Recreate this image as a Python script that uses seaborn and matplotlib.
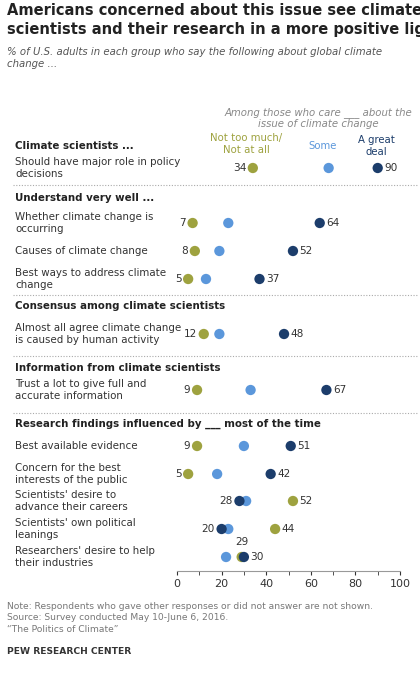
import matplotlib
matplotlib.use("Agg")
import matplotlib.pyplot as plt
import seaborn as sns
import pandas as pd

items = ["Should have major role in policy\ndecisions",
         "Whether climate change is\noccurring", "Causes of climate change",
         "Best ways to address climate\nchange",
         "Almost all agree climate change\nis caused by human activity",
         "Trust a lot to give full and\naccurate information",
         "Best available evidence", "Concern for the best\ninterests of the public",
         "Scientists' desire to\nadvance their careers",
         "Scientists' own political\nleanings", "Researchers' desire to help\ntheir industries"]
not_much = [34, 7, 8, 5, 12, 9, 9, 5, 52, 44, 29]
some = [68, 23, 19, 13, 19, 33, 30, 18, 31, 23, 22]
great = [90, 64, 52, 37, 48, 67, 51, 42, 28, 20, 30]
headers = ["Climate scientists ...", "Understand very well ...",
           "Consensus among climate scientists", "Information from climate scientists",
           "Research findings influenced by ___ most of the time"]

W, H = 420, 676
row_y = [168, 223, 251, 279, 334, 390, 446, 474, 501, 529, 557]
head_y = [146, 198, 306, 368, 424]
sep_y = [185, 295, 356, 413]
GREEN, LBLUE, NAVY = "#9ea23f", "#5b97db", "#1c3d6b"

sns.set_style("white")
plt.rcParams['font.family'] = ['DejaVu Sans']
fig = plt.figure(figsize=(W/100, H/100), dpi=100)
ax = fig.add_axes([177/W, 1-571/H, 223/W, 431/H])

df = pd.DataFrame({
    "y": row_y*3,
    "v": not_much + some + great,
    "g": ["n"]*11 + ["s"]*11 + ["a"]*11,
})
sns.scatterplot(data=df, x="v", y="y", hue="g", hue_order=["s", "n", "a"],
                palette={"n": GREEN, "s": LBLUE, "a": NAVY}, s=55, edgecolor="none",
                legend=False, ax=ax, zorder=3)
ax.set_xlim(0, 100)
ax.set_ylim(571, 140)
ax.set_xticks([0, 20, 40, 60, 80, 100])
ax.set_xticks(range(0, 101, 10), minor=True)
ax.tick_params(axis="x", which="both", length=3, labelsize=8, colors="#333333", pad=3, direction="out", bottom=True)
ax.tick_params(axis="y", left=False, labelleft=False)
ax.set_xlabel(""); ax.set_ylabel("")
for s in ["top", "right", "left"]:
    ax.spines[s].set_visible(False)
ax.spines["bottom"].set_color("#999999")

fs = 7.6
for i, y in enumerate(row_y):
    n, a = not_much[i], great[i]
    if i >= 8:
        if i == 10:
            ax.text(n, y - 15, str(n), ha="center", va="center", fontsize=fs, color="#333")
            ax.text(a + 3, y, str(a), ha="left", va="center", fontsize=fs, color="#333")
        else:
            ax.text(a - 3, y, str(a), ha="right", va="center", fontsize=fs, color="#333")
            ax.text(n + 3, y, str(n), ha="left", va="center", fontsize=fs, color="#333")
    else:
        ax.text(n - 3, y, str(n), ha="right", va="center", fontsize=fs, color="#333")
        ax.text(a + 3, y, str(a), ha="left", va="center", fontsize=fs, color="#333")

def ft(x, y, s, **kw):
    fig.text(x/W, 1-y/H, s, **kw)

ft(7, 20, "Americans concerned about this issue see climate\nscientists and their research in a more positive light",
   fontsize=10.5, fontweight="bold", color="#222", va="center", linespacing=1.3)
ft(7, 58, "% of U.S. adults in each group who say the following about global climate\nchange ...",
   fontsize=7.3, style="italic", color="#555", va="center", linespacing=1.35)
ft(318, 118, "Among those who care ___ about the\nissue of climate change", fontsize=7.3,
   style="italic", color="#888", ha="center", va="center", linespacing=1.2)
ft(246, 144, "Not too much/\nNot at all", fontsize=7.3, color=GREEN, ha="center", va="center")
ft(323, 146, "Some", fontsize=7.3, color=LBLUE, ha="center", va="center")
ft(376, 146, "A great\ndeal", fontsize=7.3, color=NAVY, ha="center", va="center")

for t, y in zip(headers, head_y):
    ft(15, y, t, fontsize=7.4, fontweight="bold", color="#222", va="center")
for t, y in zip(items, row_y):
    ft(15, y, t, fontsize=7.4, color="#333", va="center", linespacing=1.15)
for y in sep_y:
    fig.add_artist(plt.Line2D([13/W, 418/W], [1-y/H]*2, color="#aaaaaa", lw=0.8, ls=(0, (1, 1.5))))

ft(7, 618, "Note: Respondents who gave other responses or did not answer are not shown.\nSource: Survey conducted May 10-June 6, 2016.\n\u201cThe Politics of Climate\u201d",
   fontsize=6.6, color="#777", va="center", linespacing=1.3)
ft(7, 651, "PEW RESEARCH CENTER", fontsize=6.6, fontweight="bold", color="#333", va="center")

fig.savefig("out.png", dpi=100, facecolor="white")
